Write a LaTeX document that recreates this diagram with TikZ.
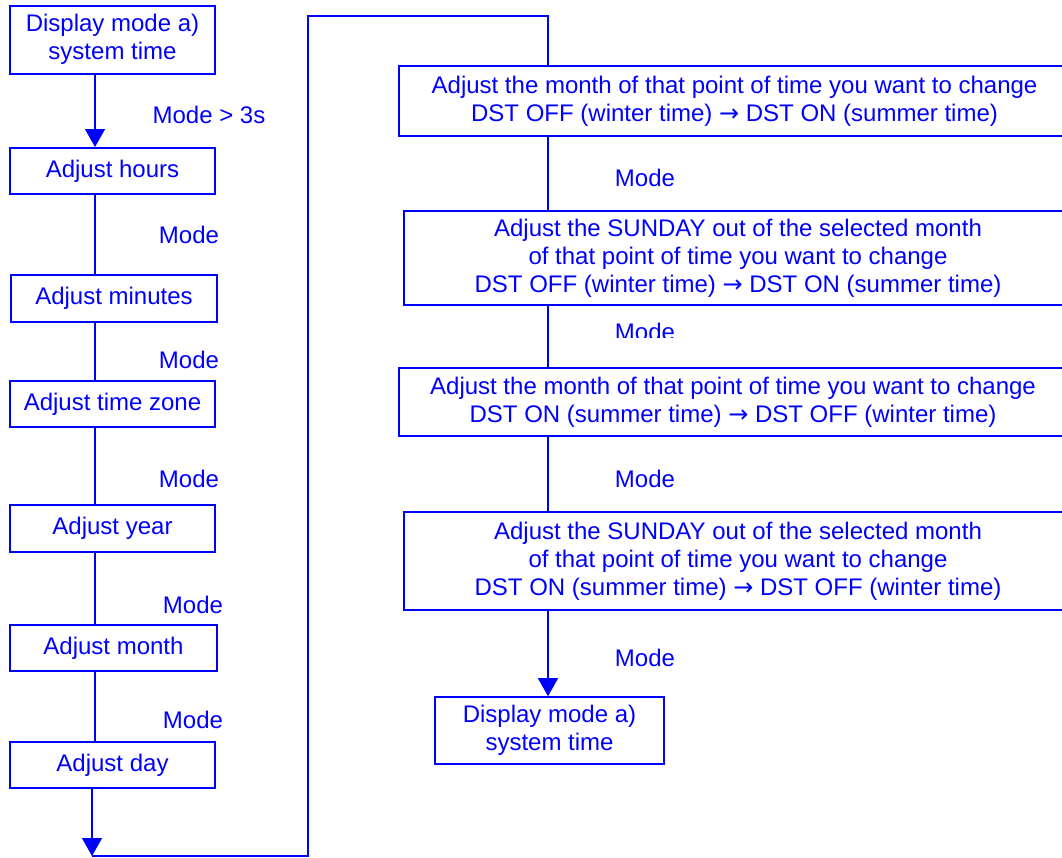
\documentclass[tikz,border=0pt]{standalone}
\usepackage{fontspec}
\setmainfont{Liberation Sans}
\newfontfamily\arrfont{DejaVu Sans}
\usetikzlibrary{arrows.meta}
\definecolor{fc}{RGB}{0,0,255}
\newcommand{\darr}{{\arrfont →}}
\begin{document}
\begin{tikzpicture}[x=0.75pt,y=-0.75pt,
  every node/.style={text=fc, font=\fontsize{18}{21}\selectfont, inner sep=0pt, align=center},
  box/.style={draw=fc, line width=1.5pt},
  conn/.style={draw=fc, line width=1.1pt},
  loopline/.style={draw=fc, line width=0.8pt},
  arr/.style={conn, -{Triangle[length=13.5pt,width=15pt]}}]
\useasboundingbox (0,0) rectangle (1062,857);
\clip (0,0) rectangle (1062,857);
% left column
\node[box, minimum width=153.75pt, minimum height=51pt] (b1) at (112.5,39.5) {Display mode a)\\system time};
\node[box, minimum width=153.75pt, minimum height=34.5pt] (b2) at (112.5,171) {Adjust hours};
\node[box, minimum width=154.5pt, minimum height=35.25pt] (b3) at (114,298.5) {Adjust minutes};
\node[box, minimum width=153.75pt, minimum height=34.5pt] (b4) at (112.5,404) {Adjust time zone};
\node[box, minimum width=153.75pt, minimum height=35.25pt] (b5) at (112.5,528.5) {Adjust year};
\node[box, minimum width=155.25pt, minimum height=34.5pt] (b6) at (113.5,648) {Adjust month};
\node[box, minimum width=153.75pt, minimum height=34.5pt] (b7) at (112.5,765) {Adjust day};
\coordinate (ls) at (95,0);
\coordinate (ls2) at (92,0);
\draw[arr] (b1.south -| ls) -- (b2.north -| ls);
\draw[conn] (b2.south -| ls) -- (b3.north -| ls);
\draw[conn] (b3.south -| ls) -- (b4.north -| ls);
\draw[conn] (b4.south -| ls) -- (b5.north -| ls);
\draw[conn] (b5.south -| ls) -- (b6.north -| ls);
\draw[conn] (b6.south -| ls) -- (b7.north -| ls);
\coordinate (bend) at (92,856);
\draw[arr] (b7.south -| ls2) -- (bend);
\node (m0) at (209,115) {Mode {>} 3s};
\node (m1) at (189,235) {Mode};
\node (m2) at (189,360) {Mode};
\node (m3) at (189,479) {Mode};
\node (m4) at (193,605) {Mode};
\node (m5) at (193,720) {Mode};
% right column
\node[box, minimum width=503.25pt, minimum height=52.5pt] (r1) at (734.5,101) {Adjust the month of that point of time you want to change\\DST OFF (winter time) \darr{} DST ON (summer time)};
\node[box, minimum width=501pt, minimum height=70.5pt] (r2) at (738,258) {Adjust the SUNDAY out of the selected month\\of that point of time you want to change\\DST OFF (winter time) \darr{} DST ON (summer time)};
\node[box, minimum width=501pt, minimum height=51pt] (r3) at (733,402) {Adjust the month of that point of time you want to change\\DST ON (summer time) \darr{} DST OFF (winter time)};
\node[box, minimum width=501pt, minimum height=73.5pt] (r4) at (738,561) {Adjust the SUNDAY out of the selected month\\of that point of time you want to change\\DST ON (summer time) \darr{} DST OFF (winter time)};
\node[box, line width=1.2pt, minimum width=171.75pt, minimum height=50.25pt] (r5) at (549.5,730.5) {Display mode a)\\system time};
\coordinate (rs) at (548,0);
\draw[conn] (r1.south -| rs) -- (r2.north -| rs);
\draw[conn] (r2.south -| rs) -- (r3.north -| rs);
\draw[conn] (r3.south -| rs) -- (r4.north -| rs);
\draw[arr] (r4.south -| rs) -- (r5.north -| rs);
\node (n1) at (645,178) {Mode};
\begin{scope}
\clip (590,300) rectangle (700,337);
\node (n2) at (645,332) {Mode};
\end{scope}
\node (n3) at (645,479) {Mode};
\node (n4) at (645,658) {Mode};
% loop
\coordinate (c1) at (308,856);
\coordinate (c2) at (308,16);
\coordinate (c3) at (548,16);
\draw[loopline] (bend) -- (c1) -- (c2) -- (c3) -- (r1.north -| rs);
\end{tikzpicture}
\end{document}
